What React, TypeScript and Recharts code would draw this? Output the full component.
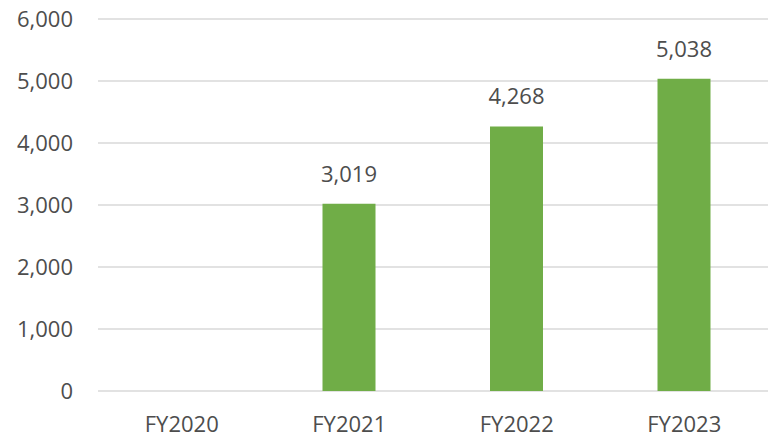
import { BarChart, Bar, XAxis, YAxis, CartesianGrid, LabelList } from "recharts";

const categories = ["FY2020", "FY2021", "FY2022", "FY2023"];
const values: (number | null)[] = [null, 3019, 4268, 5038];
const yTicks = [0, 1000, 2000, 3000, 4000, 5000, 6000];

const data = categories.map((name, i) => ({ name, value: values[i] }));

const fmt = (v: any) => (v == null ? "" : Number(v).toLocaleString("en-US"));

const textColor = "#4d4d4d";
const font = "'Open Sans', sans-serif";

export default function App() {
  return (
    <div style={{ position: "absolute", left: 0, top: 0, width: 769, height: 438, background: "#fff", fontFamily: font }}>
      <BarChart
        width={769}
        height={438}
        data={data}
        margin={{ top: 19, right: 1, bottom: 0, left: 0 }}
      >
        <CartesianGrid vertical={false} stroke="#d9d9d9" strokeWidth={1.5} />
        <XAxis
          dataKey="name"
          height={47}
          axisLine={false}
          tickLine={false}
          tickSize={0}
          tickMargin={25}
          tick={{ fill: textColor, fontSize: 22, fontFamily: font }}
        />
        <YAxis
          width={98}
          domain={[0, 6000]}
          ticks={yTicks}
          axisLine={false}
          tickLine={false}
          tickSize={0}
          tickMargin={25}
          tickFormatter={fmt}
          tick={{ fill: textColor, fontSize: 22, fontFamily: font }}
        />
        <Bar dataKey="value" fill="#70ad47" barSize={53} isAnimationActive={false}>
          <LabelList
            dataKey="value"
            position="top"
            offset={22}
            formatter={fmt}
            style={{ fill: textColor, fontSize: 22, fontFamily: font }}
          />
        </Bar>
      </BarChart>
    </div>
  );
}
